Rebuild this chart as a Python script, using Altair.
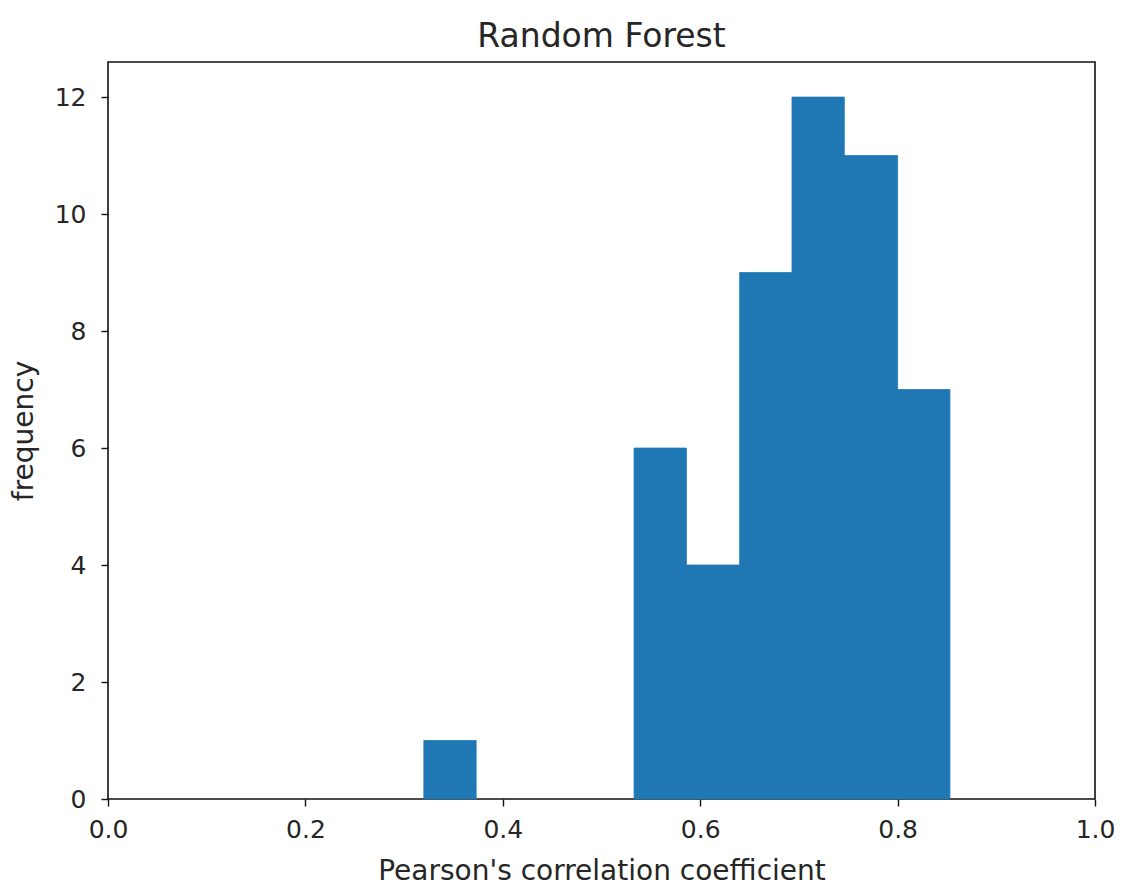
import altair as alt
import pandas as pd

# Histogram bins
bin_starts = [0.320, 0.373, 0.426, 0.480, 0.533, 0.586, 0.640, 0.693, 0.746, 0.800]
bin_ends = [0.373, 0.426, 0.480, 0.533, 0.586, 0.640, 0.693, 0.746, 0.800, 0.853]
counts = [1, 0, 0, 0, 6, 4, 9, 12, 11, 7]

df = pd.DataFrame({"start": bin_starts, "end": bin_ends, "count": counts})
df = df[df["count"] > 0]

FONT = "DejaVu Sans"
TXT = "#262626"

chart = alt.Chart(df).mark_rect(color="#1f77b4", stroke="#1f77b4", strokeWidth=0.8).encode(
    x=alt.X("start:Q",
            scale=alt.Scale(domain=[0, 1], nice=False, zero=False),
            axis=alt.Axis(values=[0.0, 0.2, 0.4, 0.6, 0.8, 1.0], format=".1f",
                          title="Pearson's correlation coefficient", grid=False,
                          domain=False, tickColor="#111", tickSize=7, tickWidth=1.4,
                          labelPadding=11, labelFontSize=25, labelColor=TXT,
                          labelFlush=False,
                          titleFontSize=28, titleFontWeight="normal", titleColor=TXT,
                          titlePadding=15, labelFont=FONT, titleFont=FONT)),
    x2="end:Q",
    y=alt.Y("count:Q",
            scale=alt.Scale(domain=[0, 12.6], nice=False),
            axis=alt.Axis(values=[0, 2, 4, 6, 8, 10, 12],
                          title="frequency", grid=False,
                          domain=False, tickColor="#111", tickSize=7, tickWidth=1.4,
                          labelPadding=15, labelFontSize=25, labelColor=TXT,
                          titleFontSize=28, titleFontWeight="normal", titleColor=TXT,
                          titlePadding=16, labelFont=FONT, titleFont=FONT)),
    y2=alt.datum(0),
).properties(
    width=987,
    height=737,
    background="white",
    title=alt.TitleParams("Random Forest", fontSize=33, font=FONT, fontWeight="normal",
                          color=TXT, offset=8),
    autosize=alt.AutoSizeParams(type="none"),
    padding={"left": 108, "top": 62, "right": 30, "bottom": 86},
).configure_view(
    stroke="#111", strokeWidth=1.6
)

chart.save("out.html", embed_options={"renderer": "svg", "actions": False})
